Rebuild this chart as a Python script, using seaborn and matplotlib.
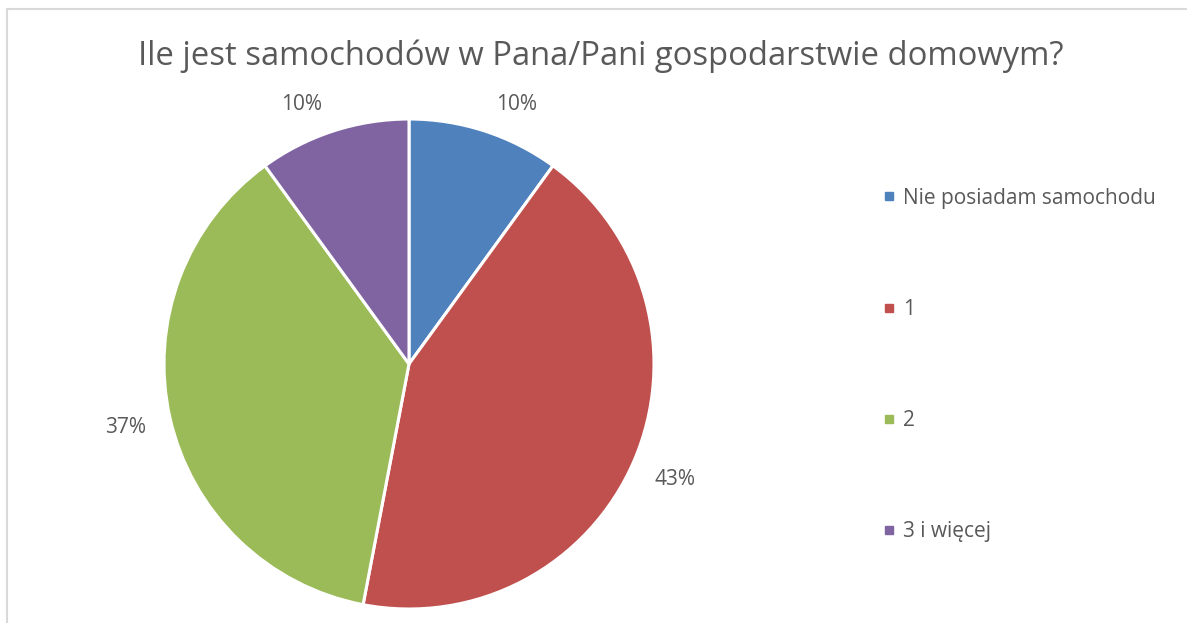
import matplotlib
matplotlib.use("Agg")
import matplotlib.pyplot as plt
from matplotlib.lines import Line2D
from matplotlib.patches import Rectangle
import numpy as np
import seaborn as sns

categories = ["Nie posiadam samochodu", "1", "2", "3 i więcej"]
values = [10, 43, 37, 10]
pct_labels = ["10%", "43%", "37%", "10%"]
colors = ["#4F81BD", "#C0504D", "#9BBB59", "#8064A2"]
title = "Ile jest samochodów w Pana/Pani gospodarstwie domowym?"

# label nudges in pixels (Excel best-fit placement)
label_nudge = [(18, -17), (0, 0), (0, 0), (-18, -17)]

sns.set_theme(style="white")
plt.rcParams["font.family"] = ["Open Sans", "DejaVu Sans"]
text_color = "#595959"

W, H = 1187, 623
fig = plt.figure(figsize=(W / 100, H / 100), dpi=100)
fig.patch.set_facecolor("white")

# outer chart frame (runs off the right and bottom edges)
fig.patches.append(Rectangle((6.5 / W, -0.1), 1.2, 1.1 - 9.5 / H, transform=fig.transFigure,
                             fill=False, edgecolor="#D9D9D9", linewidth=1.5))

cx, cy, r = 409, 364, 245
ax = fig.add_axes([(cx - r) / W, (H - cy - r) / H, 2 * r / W, 2 * r / H])
wedges, _ = ax.pie(values, colors=colors, startangle=90, counterclock=False, radius=1,
                   wedgeprops=dict(edgecolor="white", linewidth=2.2))
ax.set_xlim(-1, 1)
ax.set_ylim(-1, 1)
ax.set_aspect("equal")
ax.axis("off")

cum = 90.0
tot = sum(values)
for v, lab, nd in zip(values, pct_labels, label_nudge):
    ang = cum - v / tot * 180
    cum -= v / tot * 360
    a = np.deg2rad(ang)
    ax.annotate(lab, (1.185 * np.cos(a), 1.185 * np.sin(a)),
                xytext=(nd[0] * 0.72, nd[1] * 0.72), textcoords="offset points",
                ha="center", va="center", fontsize=15, color=text_color,
                annotation_clip=False)

fig.text(601 / W, 1 - 56 / H, title, ha="center", va="center", fontsize=23.6, color=text_color)

handles = [Line2D([], [], marker="s", linestyle="none", markersize=5.8, color=c) for c in colors]
leg = fig.legend(handles, categories, loc="center left", bbox_to_anchor=(874.7 / W, 1 - 365 / H),
                 frameon=False, fontsize=15, labelspacing=4.33, handlelength=0.6,
                 handletextpad=0.36, borderaxespad=0)
for t in leg.get_texts():
    t.set_color(text_color)

fig.savefig("out.png", dpi=100)
